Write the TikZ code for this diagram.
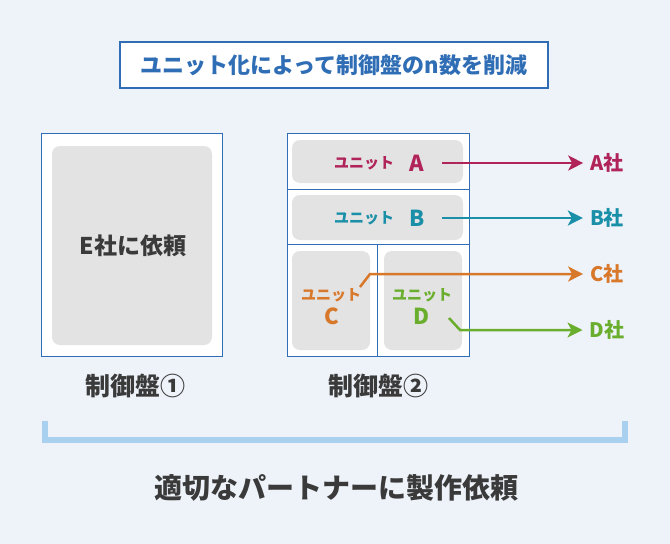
\documentclass[tikz,border=0pt]{standalone}
\usepackage{fontspec}
\usetikzlibrary{arrows.meta}
\setmainfont{Noto Sans CJK JP}
\definecolor{bg}{HTML}{EEF3FA}
\definecolor{bl}{HTML}{2F6DB5}
\definecolor{gr}{HTML}{E3E3E3}
\definecolor{ca}{HTML}{B0245A}
\definecolor{cb}{HTML}{1A8FA8}
\definecolor{cc}{HTML}{D8782A}
\definecolor{cd}{HTML}{6AAE2E}
\definecolor{txt}{HTML}{3A3A3A}
\definecolor{brk}{HTML}{A9D0EE}
\begin{document}
\begin{tikzpicture}[x=1pt,y=-1pt,
 panel/.style={draw=bl,line width=1pt,fill=white},
 unitbox/.style={fill=gr,rounded corners=8pt},
 arr/.style={line width=2.5pt,-{Stealth[length=15pt,width=15pt,inset=4pt]},shorten >=6pt},
 lab/.style={font=\bfseries\fontsize{22}{24}\selectfont},
 tlab/.style={font=\bfseries\fontsize{20}{22}\selectfont,inner sep=1pt},
 small/.style={font=\bfseries\fontsize{15}{17}\selectfont},
 big/.style={font=\bfseries\fontsize{23}{26}\selectfont}]
\fill[bg] (0,0) rectangle (670,544);
\useasboundingbox (0,0) rectangle (670,544);
\node[draw=bl,line width=1.5pt,fill=white,minimum width=428pt,minimum height=46pt,text=bl,font=\bfseries\fontsize{22}{24}\selectfont] (title) at (334,65) {ユニット化によって制御盤のn数を削減};
% left
\draw[panel] (41,133) rectangle (222,356);
\fill[unitbox] (52,146) rectangle (212,345);
\node[text=txt,big] (e) at (133,246) {E社に依頼};
\node[text=txt,font=\bfseries\fontsize{25}{28}\selectfont] (l1) at (135,386) {制御盤①};
% right
\draw[panel] (287,133) rectangle (469,356);
\draw[bl,line width=1pt] (287,189) -- (469,189) (287,244) -- (469,244) (377,244) -- (377,356);
\fill[unitbox] (292,140) rectangle (463,183);
\fill[unitbox] (292,195) rectangle (463,240);
\fill[unitbox] (292,251) rectangle (370,350);
\fill[unitbox] (384,251) rectangle (462,350);
\node[text=txt,font=\bfseries\fontsize{25}{28}\selectfont] (l2) at (378,386) {制御盤②};
\node[small,text=ca] (ua) at (364,163) {ユニット};
\node[lab,text=ca] (a) at (417,163) {A};
\node[small,text=cb] (ub) at (364,218) {ユニット};
\node[lab,text=cb] (b) at (417,218) {B};
\node[small,text=cc] (uc) at (331,295) {ユニット};
\node[lab,text=cc] (c) at (332,316) {C};
\node[small,text=cd] (ud) at (422,295) {ユニット};
\node[lab,text=cd] (d) at (422,316) {D};
\node[tlab,text=ca] (ta) at (607,163) {A社};
\node[tlab,text=cb] (tb) at (607,218) {B社};
\node[tlab,text=cc] (tc) at (607,274) {C社};
\node[tlab,text=cd] (td) at (607,330) {D社};
\coordinate (sa) at (442,163);
\coordinate (sb) at (442,218);
\coordinate (sc) at (360,287);
\coordinate (sd) at (449,318);
\draw[arr,ca] (sa) -- (ta.west);
\draw[arr,cb] (sb) -- (tb.west);
\draw[arr,cc] (sc) -- (370,274) -- (tc.west);
\draw[arr,cd] (sd) -- (460,330) -- (td.west);
% bracket
\draw[brk,line width=6pt] (45,421) -- (45,440) -- (625,440) -- (625,421);
\node[text=txt,font=\bfseries\fontsize{28}{32}\selectfont] (bt) at (336,488) {適切なパートナーに製作依頼};
\end{tikzpicture}
\end{document}
